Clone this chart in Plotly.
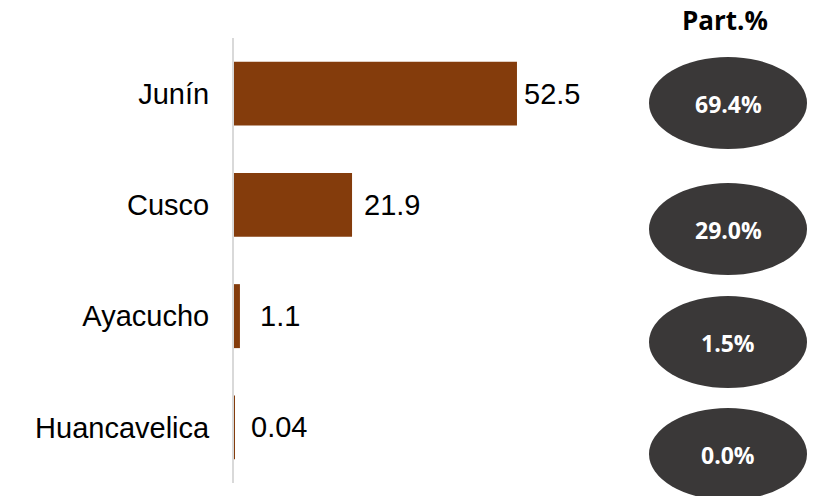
import plotly.graph_objects as go

# ---- data ----
regions = ["Junín", "Cusco", "Ayacucho", "Huancavelica"]
values = [52.5, 21.9, 1.1, 0.04]
value_labels = ["52.5", "21.9", "1.1", "0.04"]
share_labels = ["69.4%", "29.0%", "1.5%", "0.0%"]
share_title = "Part.%"

# ---- layout / style (pixels) ----
W, H = 815, 496
L, R, T, B = 234, 177, 38, 13
plot_w = W - L - R
plot_h = H - T - B
label_gap = [5, 10, 18, 15]


def px_x(x):
    return (x - L) / plot_w


def px_y(y):
    return (H - B - y) / plot_h


fig = go.Figure()
fig.add_trace(go.Bar(
    y=regions,
    x=values,
    orientation="h",
    marker=dict(color="#843C0C", line=dict(width=0)),
    hoverinfo="skip",
))

annotations = []
for reg, v, lab, g in zip(regions, values, value_labels, label_gap):
    annotations.append(dict(
        x=v, y=reg, xref="x", yref="y", text=lab, showarrow=False,
        xanchor="left", yanchor="middle", xshift=g,
        font=dict(family="Liberation Sans, Arial", size=29, color="#000000"),
    ))

ell_cx = 728
ell_cy = [103, 229, 342, 454]
ell_w, ell_h = 158, 92
shapes = []
for cy, lab in zip(ell_cy, share_labels):
    shapes.append(dict(
        type="circle", xref="paper", yref="paper",
        x0=px_x(ell_cx - ell_w / 2), x1=px_x(ell_cx + ell_w / 2),
        y0=px_y(cy + ell_h / 2), y1=px_y(cy - ell_h / 2),
        fillcolor="#3A3838", line=dict(width=0), layer="above",
    ))
    annotations.append(dict(
        xref="paper", yref="paper", x=px_x(ell_cx), y=px_y(cy + 1),
        text=f"<b>{lab}</b>", showarrow=False,
        font=dict(family="Open Sans", size=23, color="#FFFFFF"),
        xanchor="center", yanchor="middle",
    ))
annotations.append(dict(
    xref="paper", yref="paper", x=px_x(725), y=px_y(20),
    text=f"<b>{share_title}</b>", showarrow=False,
    font=dict(family="Open Sans", size=26, color="#000000"),
    xanchor="center", yanchor="middle",
))

fig.update_layout(
    width=W, height=H,
    margin=dict(l=L, r=R, t=T, b=B, pad=0),
    paper_bgcolor="white", plot_bgcolor="white",
    showlegend=False,
    bargap=0.425,
    shapes=shapes,
    annotations=annotations,
    xaxis=dict(range=[0, plot_w / 5.39], visible=False, fixedrange=True),
    yaxis=dict(
        autorange="reversed",
        showline=True, linecolor="#D9D9D9", linewidth=2,
        showgrid=False, zeroline=False,
        ticks="", ticklabelstandoff=17,
        tickfont=dict(family="Liberation Sans, Arial", size=29, color="#000000"),
        fixedrange=True,
    ),
)

fig.write_html("out.html", config={"displayModeBar": False},
               post_script="document.body.style.margin='0';")
